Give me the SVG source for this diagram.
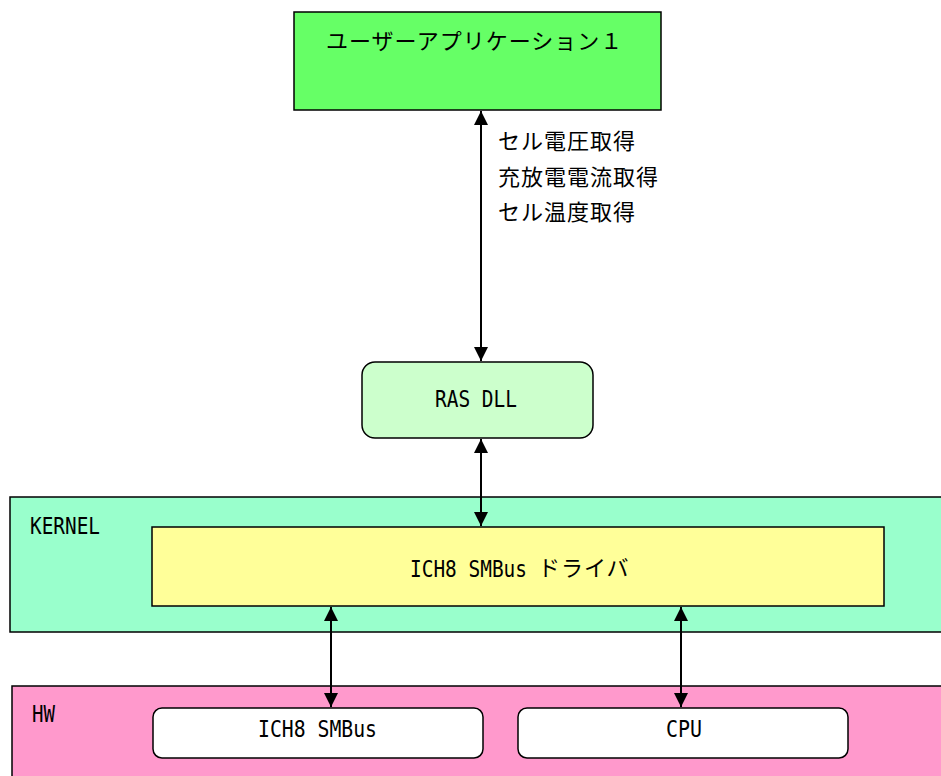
<svg xmlns="http://www.w3.org/2000/svg" width="941" height="776" viewBox="0 0 941 776">
<defs>
<marker id="ah" viewBox="0 0 14 14" refX="14" refY="7" markerWidth="14" markerHeight="14" markerUnits="userSpaceOnUse" orient="auto-start-reverse">
<path d="M0,0 L14,7 L0,14 Z" fill="#000"/>
</marker>
<style>
.box{stroke:#000;stroke-width:1.5}
.jp{font-family:"Noto Sans CJK JP","DejaVu Sans",sans-serif;font-size:22px;letter-spacing:1px;fill:#000}
.lt{font-family:"DejaVu Sans Mono","Liberation Mono",monospace;font-size:23px;fill:#000}
.con{stroke:#000;stroke-width:2;fill:none;marker-start:url(#ah);marker-end:url(#ah)}
</style>
</defs>
<rect width="941" height="776" fill="#fff"/>
<g id="kernel">
<rect class="box" x="10" y="497" width="932" height="135" fill="#99FFCC"/>
<text class="lt" x="30" y="534" textLength="70" lengthAdjust="spacingAndGlyphs">KERNEL</text>
</g>
<g id="hw">
<rect class="box" x="12" y="686" width="932" height="100" fill="#FF99CC"/>
<text class="lt" x="32" y="722" textLength="23" lengthAdjust="spacingAndGlyphs">HW</text>
</g>
<g id="app">
<rect class="box" x="294" y="12" width="367" height="98" fill="#66FF66"/>
<text class="jp" x="326" y="49">ユーザーアプリケーション１</text>
</g>
<g id="rasdll">
<rect class="box" x="362" y="362" width="231" height="76" rx="13" fill="#CCFFCC"/>
<text class="lt" x="435" y="407" textLength="82" lengthAdjust="spacingAndGlyphs">RAS DLL</text>
</g>
<g id="driver">
<rect class="box" x="152" y="527" width="732" height="79" fill="#FFFF99"/>
<text class="lt" x="410" y="577" textLength="117" lengthAdjust="spacingAndGlyphs">ICH8 SMBus</text>
<text class="jp" x="538" y="576">ドライバ</text>
</g>
<g id="smbus">
<rect class="box" x="153" y="708" width="330" height="50" rx="9" fill="#fff"/>
<text class="lt" x="258" y="737" textLength="119" lengthAdjust="spacingAndGlyphs">ICH8 SMBus</text>
</g>
<g id="cpu">
<rect class="box" x="518" y="708" width="330" height="50" rx="9" fill="#fff"/>
<text class="lt" x="666" y="737" textLength="36" lengthAdjust="spacingAndGlyphs">CPU</text>
</g>
<g id="labels">
<text class="jp" x="498" y="149">セル電圧取得</text>
<text class="jp" x="498" y="185">充放電電流取得</text>
<text class="jp" x="498" y="220">セル温度取得</text>
</g>
<g id="connectors">
<line class="con" x1="481" y1="111" x2="481" y2="361"/>
<line class="con" x1="481" y1="439" x2="481" y2="526"/>
<line class="con" x1="331" y1="607" x2="331" y2="707"/>
<line class="con" x1="681" y1="607" x2="681" y2="707"/>
</g>
</svg>
